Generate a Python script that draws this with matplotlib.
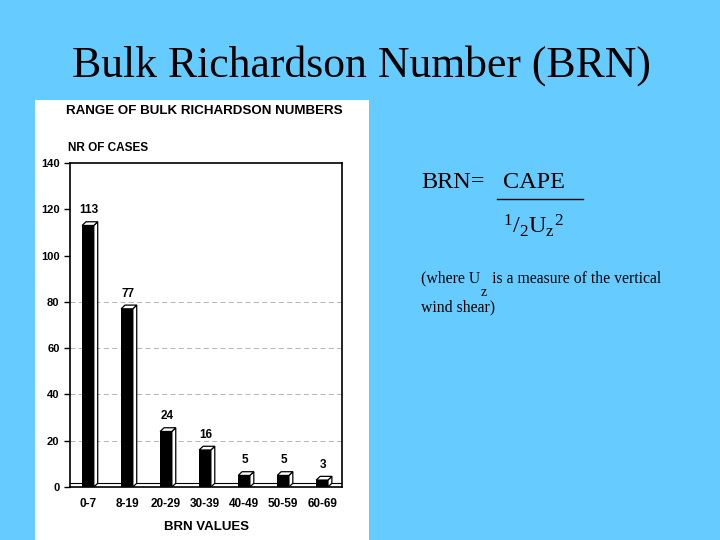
import matplotlib.pyplot as plt
from matplotlib.patches import Polygon

plt.rcParams["mathtext.fontset"] = "custom"
plt.rcParams["mathtext.rm"] = "Liberation Serif"
plt.rcParams["mathtext.it"] = "Liberation Serif"

categories = ["0-7", "8-19", "20-29", "30-39", "40-49", "50-59", "60-69"]
cases = [113, 77, 24, 16, 5, 5, 3]
y_ticks = [0, 20, 40, 60, 80, 100, 120, 140]

bg = "#66ccff"
fig = plt.figure(figsize=(7.2, 5.4), dpi=100, facecolor=bg)

# white scanned panel
panel = fig.add_axes([35 / 720, 0, 334 / 720, 440 / 540])
panel.set_facecolor("white")
panel.set_xticks([])
panel.set_yticks([])
for s in panel.spines.values():
    s.set_visible(False)

fig.text(361 / 720, 1 - 66 / 540, "Bulk Richardson Number (BRN)", ha="center", va="center",
         fontsize=31.5, family="Liberation Serif")

ax = fig.add_axes([70 / 720, 53 / 540, 272 / 720, 324 / 540])
ax.set_facecolor("none")
x = list(range(len(categories)))
ax.set_xlim(-0.46, 6.51)
ax.set_ylim(0, 140)

# 3d look: depth faces drawn behind the black fronts
w = 0.3
dx, dy = 0.1, 1.6
for xi, v in zip(x, cases):
    side = Polygon([(xi + w / 2, 0), (xi + w / 2 + dx, dy), (xi + w / 2 + dx, v + dy), (xi + w / 2, v)],
                   closed=True, facecolor="white", edgecolor="black", lw=0.9, zorder=2)
    top = Polygon([(xi - w / 2, v), (xi - w / 2 + dx, v + dy), (xi + w / 2 + dx, v + dy), (xi + w / 2, v)],
                  closed=True, facecolor="white", edgecolor="black", lw=0.9, zorder=2)
    ax.add_patch(side)
    ax.add_patch(top)
ax.bar(x, cases, width=w, color="black", zorder=3)
for xi, v in zip(x, cases):
    ax.text(xi + 0.03, v + 4, str(v), ha="center", va="bottom", fontsize=8.5, fontweight="bold",
            family="Liberation Sans", zorder=4)

for g in [20, 40, 60, 80]:
    ax.axhline(g, color="#aaaaaa", lw=0.6, ls=(0, (6, 4)), zorder=1)
ax.axhline(dy, color="black", lw=0.8, zorder=1)

ax.set_yticks(y_ticks)
ax.set_yticklabels([str(t) for t in y_ticks], fontsize=8, fontweight="bold", family="Liberation Sans")
ax.set_xticks(x)
ax.set_xticklabels(categories, fontsize=8.5, fontweight="bold", family="Liberation Sans")
ax.tick_params(axis="x", length=0, pad=8)
ax.tick_params(axis="y", length=4, width=1)
for s in ax.spines.values():
    s.set_linewidth(1.2)
ax.set_xlabel("BRN VALUES", fontsize=9.5, fontweight="bold", family="Liberation Sans", labelpad=8)

fig.text(66 / 720, 1 - 111 / 540, "RANGE OF BULK RICHARDSON NUMBERS", ha="left", va="center",
         fontsize=9.6, fontweight="bold", family="Liberation Sans")
fig.text(68 / 720, 1 - 148 / 540, "NR OF CASES", ha="left", va="center",
         fontsize=8.5, fontweight="bold", family="Liberation Sans")

# formula on the right
serif = "Liberation Serif"
fig.text(421 / 720, 1 - 182 / 540, "BRN=", ha="left", va="center", fontsize=17.5, family=serif)
fig.text(503 / 720, 1 - 182 / 540, "CAPE", ha="left", va="center", fontsize=17.5, family=serif)
fig.add_artist(plt.Line2D([497 / 720, 583 / 720], [1 - 199 / 540, 1 - 199 / 540], color="black", lw=1))
fig.text(503 / 720, 1 - 226 / 540, r"$\mathrm{^{1}/_{2}U_{z}{}^{2}}$", ha="left", va="center",
         fontsize=17.5)
fig.text(421 / 720, 1 - 278 / 540, "(where U   is a measure of the vertical", ha="left", va="center",
         fontsize=11.3, family=serif)
fig.text(481 / 720, 1 - 292 / 540, "z", ha="left", va="center", fontsize=10, family=serif)
fig.text(421 / 720, 1 - 307 / 540, "wind shear)", ha="left", va="center", fontsize=11.3, family=serif)

fig.savefig("out.png", dpi=100, facecolor=bg)
